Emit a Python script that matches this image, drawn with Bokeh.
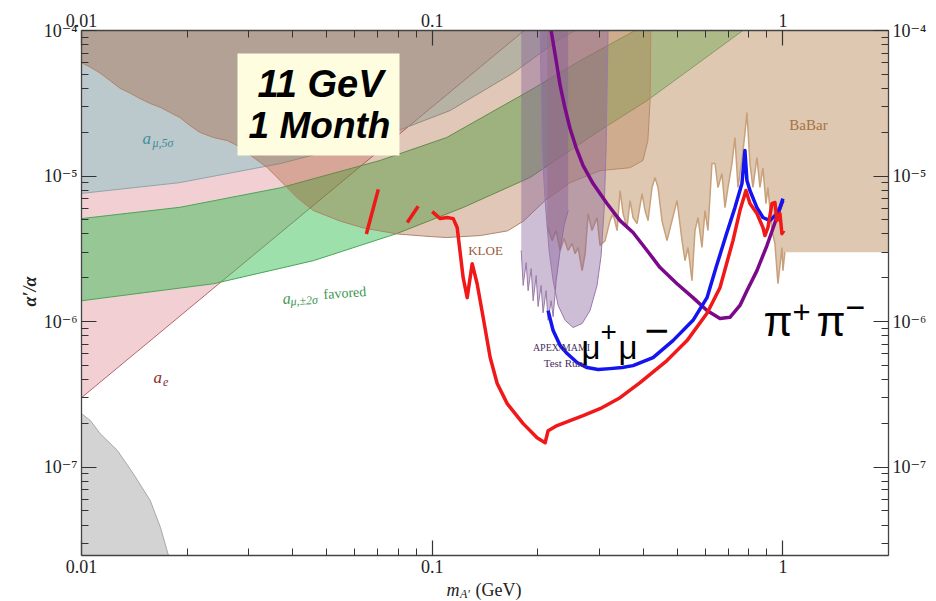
import math
from bokeh.plotting import figure
from bokeh.models import (Range1d, LogAxis, FixedTicker, CustomJSTickFormatter,
                          Label, BoxAnnotation)
from bokeh.embed import file_html
from bokeh.resources import INLINE

# ---------------- data: m_A' [GeV]  vs  alpha'/alpha ----------------
ae_mass = [0.01, 0.183]
ae_alpha = [3.0e-7, 1.0e-4]

amu5_mass = [0.01, 0.019, 0.037, 0.071, 0.1125, 0.17, 0.232, 0.256]
amu5_alpha = [7.6e-6, 9.0e-6, 1.22e-5, 1.84e-5, 2.82e-5, 5.1e-5, 8.8e-5, 1.0e-4]

green_up_mass = [0.01, 0.0191, 0.0369, 0.0711, 0.110, 0.190, 0.264, 0.379]
green_up_alpha = [5.1e-6, 6.1e-6, 8.3e-6, 1.28e-5, 1.84e-5, 3.87e-5, 6.2e-5, 1.0e-4]
green_lo_mass = [0.01, 0.0238, 0.0458, 0.0794, 0.1225, 0.190, 0.301, 0.410, 0.769]
green_lo_alpha = [1.39e-6, 1.82e-6, 2.62e-6, 4.03e-6, 6.08e-6, 9.77e-6, 2.06e-5, 3.3e-5, 1.0e-4]

kloe_mass = [0.01, 0.0106, 0.0113, 0.0121, 0.0129, 0.0138, 0.0147, 0.0157, 0.0168,
             0.0179, 0.0191, 0.0204, 0.0218, 0.0238, 0.0261, 0.0278, 0.0339, 0.0369,
             0.0412, 0.0458, 0.0547, 0.0636, 0.0794, 0.0987, 0.110, 0.137, 0.164,
             0.182, 0.210, 0.247, 0.301, 0.366, 0.399, 0.412, 0.418, 0.42]
kloe_alpha = [6.0e-5, 5.6e-5, 5.1e-5, 4.5e-5, 4.0e-5, 3.7e-5, 3.4e-5, 3.15e-5, 2.96e-5,
              2.73e-5, 2.52e-5, 2.22e-5, 1.99e-5, 1.84e-5, 1.75e-5, 1.62e-5, 1.14e-5, 9.3e-6,
              7.1e-6, 5.8e-6, 4.9e-6, 4.4e-6, 4.0e-6, 3.84e-6, 3.78e-6, 3.9e-6, 4.2e-6,
              4.9e-6, 6.8e-6, 9.0e-6, 1.09e-5, 1.14e-5, 1.28e-5, 1.75e-5, 3.3e-5, 1.0e-4]

babar_mass = [0.2126, 0.2197, 0.2256, 0.2316, 0.2377, 0.2441, 0.2506, 0.2555, 0.2606,
              0.2676, 0.2729, 0.2783, 0.2855, 0.2951, 0.3010, 0.3111, 0.3214, 0.3279,
              0.3366, 0.3433, 0.3501, 0.3594, 0.3665, 0.3738, 0.3837, 0.3966, 0.4045,
              0.4125, 0.4234, 0.4318, 0.4404, 0.4520, 0.4671, 0.4828, 0.4989, 0.5156,
              0.5258, 0.5362, 0.5504, 0.5614, 0.5725, 0.5877, 0.5995, 0.6113, 0.6276,
              0.6402, 0.6529, 0.6702, 0.6836, 0.6971, 0.7157, 0.7298, 0.7444, 0.7641,
              0.7792, 0.7895, 0.8053, 0.8212, 0.8432, 0.8600, 0.8770, 0.8945, 0.9063,
              0.9305, 0.9489, 0.9678, 0.9935, 1.000, 1.013, 2.0]
babar_alpha = [4.57e-6, 3.60e-6, 4.22e-6, 3.08e-6, 3.72e-6, 3.08e-6, 3.44e-6, 2.93e-6, 3.23e-6,
               2.24e-6, 2.93e-6, 5.52e-6, 4.22e-6, 5.19e-6, 3.33e-6, 3.60e-6, 4.94e-6, 5.52e-6,
               4.22e-6, 7.95e-6, 5.52e-6, 4.43e-6, 6.79e-6, 5.19e-6, 4.71e-6, 7.58e-6, 5.79e-6,
               4.94e-6, 8.34e-6, 9.76e-6, 8.34e-6, 4.94e-6, 3.60e-6, 4.94e-6, 6.79e-6, 3.60e-6,
               2.62e-6, 3.23e-6, 1.91e-6, 4.22e-6, 5.19e-6, 3.23e-6, 5.79e-6, 4.22e-6, 1.22e-5,
               1.22e-5, 8.34e-6, 1.04e-5, 6.07e-6, 8.34e-6, 1.22e-5, 1.84e-5, 8.34e-6, 1.28e-5,
               1.96e-5, 2.73e-5, 1.22e-5, 8.34e-6, 1.34e-5, 8.34e-6, 1.14e-5, 6.47e-6, 8.34e-6,
               4.22e-6, 3.44e-6, 1.82e-6, 3.23e-6, 2.24e-6, 3.0e-6, 3.0e-6]

apex_mass = [0.1794, 0.1817, 0.1853, 0.1877, 0.1915, 0.1940, 0.1979, 0.2004, 0.2044,
             0.2071, 0.2112, 0.2140, 0.2183, 0.2212, 0.2256, 0.2316, 0.2377, 0.2441]
apex_alpha = [3.08e-6, 1.77e-6, 2.54e-6, 1.63e-6, 2.31e-6, 1.39e-6, 2.07e-6, 1.27e-6, 1.77e-6,
              1.15e-6, 1.63e-6, 1.02e-6, 1.39e-6, 1.08e-6, 1.91e-6, 3.08e-6, 4.57e-6, 5.79e-6]

mami_mass = [0.2031, 0.2058, 0.2099, 0.2154, 0.2212, 0.2286, 0.2393, 0.2522, 0.2676,
             0.2818, 0.2951, 0.3031, 0.3090, 0.3131, 0.3172]
mami_alpha = [1.0e-4, 1.5e-5, 6.79e-6, 3.08e-6, 1.91e-6, 1.29e-6, 1.02e-6, 9.1e-7, 9.7e-7,
              1.19e-6, 1.77e-6, 2.84e-6, 5.79e-6, 1.5e-5, 1.0e-4]

dump_mass = [0.01, 0.0106, 0.0113, 0.01266, 0.01406, 0.0157, 0.0168, 0.0177]
dump_alpha = [2.33e-7, 2.09e-7, 1.70e-7, 1.30e-7, 9.0e-8, 5.9e-8, 3.84e-8, 2.47e-8]

# HPS reach, 11 GeV, 1 month (red)
red_a_mass = [0.0649, 0.0702]
red_a_alpha = [4.0e-6, 8.1e-6]
red_b_mass = [0.0849, 0.0912]
red_b_alpha = [4.8e-6, 6.2e-6]
red_c_mass = [0.1000, 0.1054, 0.1103, 0.1148, 0.1178, 0.1225, 0.1258, 0.1300, 0.1343,
              0.1397, 0.1463, 0.1532, 0.1636, 0.1817, 0.1991, 0.2099, 0.2140, 0.2271,
              0.2472, 0.2693, 0.3010, 0.3433, 0.3914, 0.4671, 0.5328, 0.6075, 0.6614,
              0.7204, 0.7541, 0.7845, 0.8053, 0.8432, 0.8770, 0.8886, 0.9063, 0.9305,
              0.9489, 0.9614, 0.9806, 0.9935, 1.0065]
red_c_alpha = [5.70e-6, 5.10e-6, 5.19e-6, 5.10e-6, 4.43e-6, 2.01e-6, 1.46e-6, 2.50e-6, 1.82e-6,
               1.07e-6, 5.66e-7, 3.75e-7, 2.73e-7, 1.99e-7, 1.59e-7, 1.47e-7, 1.78e-7, 1.93e-7,
               2.09e-7, 2.26e-7, 2.52e-7, 3.00e-7, 3.81e-7, 5.40e-7, 7.40e-7, 1.14e-6, 1.71e-6,
               3.60e-6, 5.79e-6, 7.95e-6, 6.47e-6, 5.52e-6, 4.43e-6, 3.90e-6, 4.43e-6, 6.47e-6,
               6.58e-6, 4.94e-6, 5.52e-6, 4.02e-6, 4.22e-6]

# mu+ mu- reach (blue)
mumu_mass = [0.2140, 0.2212, 0.2316, 0.2425, 0.2588, 0.2764, 0.2971, 0.3214, 0.3478,
             0.3738, 0.4262, 0.4859, 0.5541, 0.6075, 0.6445, 0.6880, 0.7298, 0.7641,
             0.7792, 0.7895, 0.8053, 0.8432, 0.8770, 0.9183, 0.9614, 0.9806, 1.000]
mumu_alpha = [1.19e-6, 8.67e-7, 6.84e-7, 6.03e-7, 5.23e-7, 4.83e-7, 4.68e-7, 4.75e-7, 4.83e-7,
              4.98e-7, 5.66e-7, 7.40e-7, 1.02e-6, 1.46e-6, 2.35e-6, 3.90e-6, 6.07e-6, 8.88e-6,
              1.50e-5, 9.31e-6, 7.95e-6, 6.07e-6, 5.19e-6, 4.94e-6, 5.52e-6, 6.07e-6, 7.0e-6]

# pi+ pi- reach (purple)
pipi_mass = [0.2183, 0.2256, 0.2316, 0.2393, 0.2472, 0.2572, 0.2693, 0.2875, 0.3150,
             0.3433, 0.3738, 0.4098, 0.4463, 0.4989, 0.5541, 0.6075, 0.6614, 0.7063,
             0.7541, 0.7895, 0.8432, 0.9003, 0.9365, 0.9806, 1.000]
pipi_alpha = [1.0e-4, 6.22e-5, 4.19e-5, 2.91e-5, 2.12e-5, 1.57e-5, 1.18e-5, 8.88e-6, 6.47e-6,
              4.94e-6, 4.09e-6, 3.08e-6, 2.35e-6, 1.82e-6, 1.46e-6, 1.19e-6, 1.05e-6, 1.07e-6,
              1.29e-6, 1.63e-6, 2.24e-6, 3.33e-6, 4.36e-6, 5.98e-6, 6.79e-6]

x_ticks = [0.01, 0.1, 1.0]
y_ticks = [1e-7, 1e-6, 1e-5, 1e-4]
x_lo, x_hi = 0.01, 2.0
y_lo, y_hi = 2.47e-8, 1.0e-4

x_minor = [k * 10.0 ** e for e in (-2, -1, 0) for k in range(2, 10) if k * 10.0 ** e <= x_hi]
y_minor = [k * 10.0 ** e for e in (-8, -7, -6, -5) for k in range(2, 10) if k * 10.0 ** e >= y_lo]

# ---------------- layout: the plot frame fills the canvas, axes sit at fixed data locations ----
W, H = 934, 600
BOX_L, BOX_R, BOX_T, BOX_B = 81, 888, 30, 555      # pixel edges of the box of axes
dec_x = (BOX_R - BOX_L) / (math.log10(x_hi) - math.log10(x_lo))
dec_y = (BOX_B - BOX_T) / (math.log10(y_hi) - math.log10(y_lo))
xr = Range1d(10 ** (math.log10(x_lo) - BOX_L / dec_x), 10 ** (math.log10(x_hi) + (W - BOX_R) / dec_x))
yr = Range1d(10 ** (math.log10(y_lo) - (H - BOX_B) / dec_y), 10 ** (math.log10(y_hi) + BOX_T / dec_y))

p = figure(width=W, height=H, x_axis_type="log", y_axis_type="log",
           x_range=xr, y_range=yr, output_backend="svg", toolbar_location=None,
           min_border=0)
p.title.visible = False
p.xgrid.visible = False
p.ygrid.visible = False
p.outline_line_color = None
p.background_fill_color = "white"
p.border_fill_color = "white"

p.below[0].fixed_location = y_lo
p.left[0].fixed_location = x_lo
p.add_layout(LogAxis(fixed_location=y_hi), "above")
p.add_layout(LogAxis(fixed_location=x_hi), "right")

x_fmt = CustomJSTickFormatter(code="return tick >= 1 ? tick.toFixed(0) : String(Number(tick.toPrecision(3)));")
y_fmt = CustomJSTickFormatter(code="""
const sup = {"-": "⁻", "0": "⁰", "1": "¹", "2": "²", "3": "³", "4": "⁴", "5": "⁵", "6": "⁶", "7": "⁷", "8": "⁸", "9": "⁹"};
const e = Math.round(Math.log10(tick));
return "10" + String(e).split("").map(c => sup[c]).join("");
""")
for ax in p.xaxis:
    ax.ticker = FixedTicker(ticks=x_ticks, minor_ticks=x_minor)
    ax.formatter = x_fmt
    ax.bounds = (x_lo, x_hi)
for ax in p.yaxis:
    ax.ticker = FixedTicker(ticks=y_ticks, minor_ticks=y_minor)
    ax.formatter = y_fmt
    ax.bounds = (y_lo, y_hi)
for ax in p.axis:
    ax.major_tick_in = 15
    ax.major_tick_out = 0
    ax.minor_tick_in = 7
    ax.minor_tick_out = 0
    ax.axis_line_color = "#444444"
    ax.axis_line_width = 1.3
    ax.major_tick_line_color = "#333333"
    ax.minor_tick_line_color = "#333333"
    ax.major_tick_line_width = 1.2
    ax.minor_tick_line_width = 1.0
    ax.major_label_text_font = "'Liberation Serif', 'DejaVu Serif', serif"
    ax.major_label_text_font_size = "18px"
    ax.major_label_text_color = "#222222"
    ax.major_label_standoff = 4

# ---------------- shaded regions ----------------
p.patch(ae_mass + [x_lo], ae_alpha + [y_hi], fill_color="#E8A8AE", fill_alpha=0.55, line_color=None)
p.line(ae_mass, ae_alpha, line_color="#B86470", line_width=1)

p.patch(amu5_mass + [x_lo], amu5_alpha + [y_hi], fill_color="#78BEC3", fill_alpha=0.45, line_color=None)
p.line(amu5_mass, amu5_alpha, line_color="#8EA6AC", line_width=1)

p.patch(green_up_mass + green_lo_mass[::-1], green_up_alpha + green_lo_alpha[::-1],
        fill_color="#32BE50", fill_alpha=0.48, line_color=None)
p.line(green_up_mass, green_up_alpha, line_color="#4CA45A", line_width=1)
p.line(green_lo_mass, green_lo_alpha, line_color="#4CA45A", line_width=1)

p.patch(dump_mass + [x_lo], dump_alpha + [y_lo], fill_color="#D3D3D3", fill_alpha=1.0, line_color=None)
p.line(dump_mass, dump_alpha, line_color="#A8A8A8", line_width=1)

p.patch(kloe_mass + [x_lo], kloe_alpha + [y_hi], fill_color="#A0501E", fill_alpha=0.32, line_color=None)
p.line(kloe_mass, kloe_alpha, line_color="#B08468", line_width=1)

p.patch([babar_mass[0]] + babar_mass + [x_hi], [y_hi] + babar_alpha + [y_hi],
        fill_color="#BE9164", fill_alpha=0.5, line_color=None)
p.line(babar_mass[:-1], babar_alpha[:-1], line_color="#C8A07A", line_width=1.5)

p.patch([apex_mass[0]] + apex_mass + [apex_mass[-1]], [y_hi] + apex_alpha + [y_hi],
        fill_color="#825A96", fill_alpha=0.4, line_color=None)
p.line(apex_mass, apex_alpha, line_color="#9A7AAA", line_width=1)
p.patch(mami_mass, mami_alpha, fill_color="#825A96", fill_alpha=0.4, line_color="#9A7AAA", line_width=1)

# ---------------- reach curves ----------------
p.line(pipi_mass, pipi_alpha, line_color="#7A0A8A", line_width=3.5, line_join="round")
p.line(mumu_mass, mumu_alpha, line_color="#1414F0", line_width=3.5, line_join="round")
p.line(red_c_mass, red_c_alpha, line_color="#F01818", line_width=3.5, line_join="round")
p.line(red_a_mass, red_a_alpha, line_color="#F01818", line_width=3.5)
p.line(red_b_mass, red_b_alpha, line_color="#F01818", line_width=3.5)

# ---------------- annotations (page pixels -> frame screen units; frame = whole canvas) -------
def at(px, py):
    return px, H - py


bl, bt = at(237, 53)
br, bb = at(399, 155)
p.add_layout(BoxAnnotation(left=bl, right=br, top=bt, bottom=bb,
                           left_units="screen", right_units="screen",
                           top_units="screen", bottom_units="screen",
                           fill_color="#FEFDE0", fill_alpha=1.0, line_color=None))


def txt(text, px, py, size, color="#222222", font="Liberation Serif", style="normal",
        align="left", baseline="alphabetic", angle=0.0):
    sx, sy = at(px, py)
    p.add_layout(Label(x=sx, y=sy, x_units="screen", y_units="screen", text=text,
                       text_font=font, text_font_size=f"{size}px", text_font_style=style,
                       text_color=color, text_align=align, text_baseline=baseline, angle=angle))


txt("11 GeV", 320, 83, 38, color="black", font="Liberation Sans", style="bold italic",
    align="center", baseline="middle")
txt("1 Month", 319, 125, 37, color="black", font="Liberation Sans", style="bold italic",
    align="center", baseline="middle")

txt("a", 142, 138, 17, color="#3E8E9A", style="italic")
txt("μ,5σ", 152, 142, 12, color="#3E8E9A", style="italic")

txt("a", 282, 298, 16, color="#3C9650", style="italic", angle=0.07)
txt("μ,±2σ", 290, 301, 12, color="#3C9650", style="italic", angle=0.07)
txt("favored", 323, 294, 14, color="#3C9650", angle=0.07)

txt("a", 153, 377, 17, color="#8B2A2A", style="italic")
txt("e", 162.5, 381, 12, color="#8B2A2A", style="italic")

txt("KLOE", 485, 249.5, 13, color="#9A5B3A", align="center", baseline="middle")
txt("BaBar", 808, 124, 15, color="#A6743E", align="center", baseline="middle")
txt("APEX/MAMI", 561, 346.5, 10, color="#4B2D5F", align="center", baseline="middle")
txt("Test Runs", 565, 362.5, 11, color="#4B2D5F", align="center", baseline="middle")

txt("μ", 581, 347, 33, color="black", font="Liberation Sans")
txt("+", 600, 331, 28, color="black", font="Liberation Sans")
txt("μ", 618, 347, 33, color="black", font="Liberation Sans")
txt("−", 644, 330, 42, color="black", font="Liberation Sans")

txt("π", 763, 321, 42, color="black", font="Liberation Sans")
txt("+", 792, 311, 31, color="black", font="Liberation Sans")
txt("π", 816, 321, 42, color="black", font="Liberation Sans")
txt("−", 845, 307, 34, color="black", font="Liberation Sans")

# axis titles
txt("α′/α", 29, 291, 18, style="bold italic", align="center", baseline="middle", angle=math.pi / 2)
txt("m", 446, 589, 18, style="italic")
txt("A′", 459.5, 593, 12, style="italic")
txt("(GeV)", 475, 589, 18)

open("out.html", "w").write(file_html(p, INLINE))
